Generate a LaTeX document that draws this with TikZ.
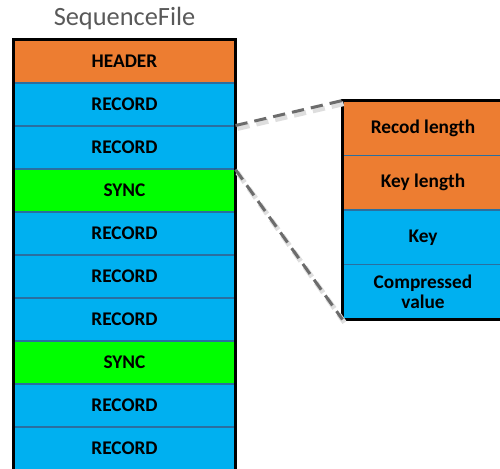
\documentclass[tikz,border=0pt]{standalone}
\usepackage{fontspec}
\setmainfont{Carlito}
\definecolor{hdrorange}{HTML}{ED7D31}
\definecolor{recblue}{HTML}{00B0F0}
\definecolor{syncgreen}{HTML}{00FF00}
\definecolor{sepblue}{HTML}{2A6FA0}
\definecolor{titlegray}{HTML}{595959}
\begin{document}
\begin{tikzpicture}[
    x=0.02cm, y=-0.02cm,
    cell/.style={rectangle, draw=sepblue, line width=0.6pt, minimum width=4.42cm, minimum height=0.86cm, inner sep=0pt, align=center, font=\fontsize{11}{12.5}\selectfont\bfseries},
    field/.style={cell, minimum width=3.2cm, minimum height=1.09cm},
    zoomline/.style={dashed, dash pattern=on 7pt off 4pt, line width=1.7pt, draw=gray!85!black},
    zoomshadow/.style={dashed, dash pattern=on 7pt off 4pt, line width=2.8pt, draw=black!13}
]
\clip (0,0) rectangle (500,468);

% Title
\node[text=titlegray, font=\fontsize{15}{17}\selectfont] (title) at (124.5,18) {SequenceFile};

% SequenceFile rows
\node[cell, fill=hdrorange] (hdr) at (124.5,61.5) {HEADER};
\node[cell, fill=recblue] (rec1) at (124.5,104.5) {RECORD};
\node[cell, fill=recblue] (rec2) at (124.5,147.5) {RECORD};
\node[cell, fill=syncgreen] (sync1) at (124.5,190.5) {SYNC};
\node[cell, fill=recblue] (rec3) at (124.5,233.5) {RECORD};
\node[cell, fill=recblue] (rec4) at (124.5,276.5) {RECORD};
\node[cell, fill=recblue] (rec5) at (124.5,319.5) {RECORD};
\node[cell, fill=syncgreen] (sync2) at (124.5,362.5) {SYNC};
\node[cell, fill=recblue] (rec6) at (124.5,405.5) {RECORD};
\node[cell, fill=recblue] (rec7) at (124.5,448.5) {RECORD};
\draw[line width=2.2pt] (hdr.north west) rectangle (rec7.south east);

% Record layout
\node[field, fill=hdrorange] (reclen) at (423,128.25) {Recod length};
\node[field, fill=hdrorange] (keylen) at (423,182.75) {Key length};
\node[field, fill=recblue] (key) at (423,237.25) {Key};
\node[field, fill=recblue] (val) at (423,291.75) {Compressed\\[-1pt]value};
\draw[line width=2.2pt] (reclen.north west) rectangle (val.south east);

% Zoom lines
\draw[zoomshadow] ([shift={(2,3)}]rec2.north east) -- ([shift={(2,3)}]reclen.north west);
\draw[zoomshadow] ([shift={(2,3)}]rec2.south east) -- ([shift={(2,3)}]val.south west);
\draw[zoomline] (rec2.north east) -- (reclen.north west);
\draw[zoomline] (rec2.south east) -- (val.south west);
\end{tikzpicture}
\end{document}
